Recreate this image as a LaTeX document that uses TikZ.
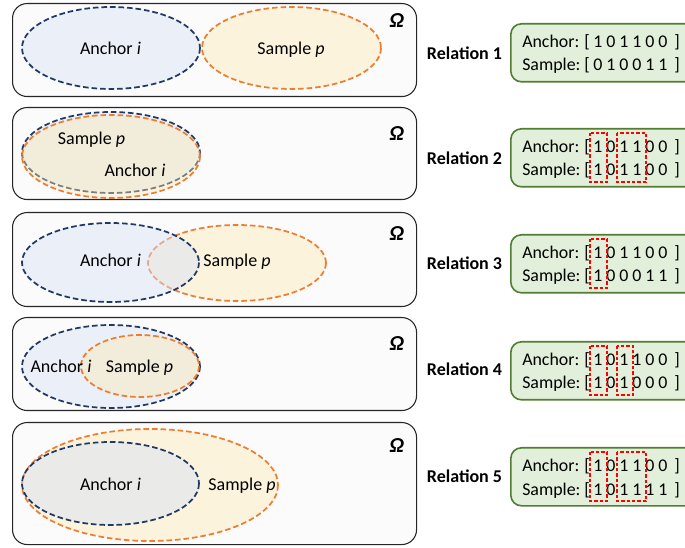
\documentclass[tikz,border=0pt]{standalone}
\usepackage{fontspec}
\setmainfont{Carlito}
\definecolor{navy}{HTML}{203864}
\definecolor{orng}{HTML}{ED7D31}
\definecolor{afill}{HTML}{D6E2F6}
\definecolor{sfill}{HTML}{FFE9B0}
\definecolor{panelfill}{HTML}{FBFBFB}
\definecolor{gborder}{HTML}{507E32}
\definecolor{gfill}{HTML}{E2EFDA}
\tikzset{
  panel/.style={draw=black!85, fill=panelfill, rounded corners=11pt, line width=0.8pt},
  anc/.style={draw=navy, line width=1.3pt, dash pattern=on 4.2pt off 2.2pt, fill=afill, fill opacity=0.45},
  smp/.style={draw=orng, line width=1.3pt, dash pattern=on 4.2pt off 2.2pt, fill=sfill, fill opacity=0.4},
  lbl/.style={anchor=base, inner sep=0pt, font=\fontsize{13.5}{16}\selectfont},
  omega/.style={anchor=base, inner sep=0pt, font=\fontsize{16}{18}\selectfont\bfseries\itshape},
  rel/.style={anchor=base, inner sep=0pt, font=\fontsize{13.5}{16}\selectfont\bfseries},
  gbox/.style={draw=gborder, fill=gfill, rounded corners=8pt, line width=1.2pt, anchor=north west,
    minimum width=150pt, minimum height=43.5pt, inner sep=0pt},
  btxt/.style={anchor=base, inner sep=0pt, font=\fontsize{13.4}{15}\selectfont},
  rbox/.style={draw=red, line width=0.8pt, dash pattern=on 2.6pt off 1.4pt},
}
\newcommand\bitrow[3]{%
  \foreach \d [count=\k] in {#3} {\node[btxt] (#1\k) at ({585+13*\k},#2) {\d};}}
\newcommand\relbox[5]{% #1 prefix, #2 top y, #3 label y, #4 anchor bits, #5 sample bits
  \node[gbox] (#1box) at (510,#2) {};
  \node[btxt, anchor=base west] (#1al) at (522,#2+25) {Anchor:};
  \node[btxt, anchor=base west] (#1sl) at (522,#2+48) {Sample:};
  \node[btxt] (#1ao) at (587,#2+25) {[};
  \node[btxt] (#1so) at (587,#2+48) {[};
  \node[btxt] (#1ac) at (677,#2+25) {]};
  \node[btxt] (#1sc) at (677,#2+48) {]};
  \bitrow{#1a}{#2+25}{#4}
  \bitrow{#1s}{#2+48}{#5}
}
\begin{document}
\begin{tikzpicture}[x=0.75pt,y=-0.75pt]
\useasboundingbox (0,0) rectangle (685,548);

% ---------- Panel 1
\node[panel, anchor=north west, minimum width=303pt, minimum height=69.75pt, inner sep=0pt] (p1) at (12,3) {};
\draw[anc] (111,48) ellipse [x radius=89, y radius=41];
\draw[smp] (291.5,48) ellipse [x radius=89.5, y radius=41];
\node[lbl] (a1) at (110.5,55) {Anchor \textit{i}};
\node[lbl] (s1) at (291,55) {Sample \textit{p}};
\node[omega] (o1) at (397,27.5) {Ω};

% ---------- Panel 2
\node[panel, anchor=north west, minimum width=303pt, minimum height=69pt, inner sep=0pt] (p2) at (12,107) {};
\draw[anc] (111,152.5) ellipse [x radius=89, y radius=40.5];
\draw[smp] (111,156.5) ellipse [x radius=89, y radius=41.5];
\node[lbl] (s2) at (91.5,145) {Sample \textit{p}};
\node[lbl] (a2) at (135,177) {Anchor \textit{i}};
\node[omega] (o2) at (397,141) {Ω};

% ---------- Panel 3
\node[panel, anchor=north west, minimum width=303pt, minimum height=70.5pt, inner sep=0pt] (p3) at (12,212) {};
\draw[smp] (237,263) ellipse [x radius=89, y radius=38];
\draw[anc] (110.5,262.5) ellipse [x radius=88.5, y radius=39.5];
\node[lbl] (a3) at (110.5,267) {Anchor \textit{i}};
\node[lbl] (s3) at (237,267) {Sample \textit{p}};
\node[omega] (o3) at (397,241) {Ω};

% ---------- Panel 4
\node[panel, anchor=north west, minimum width=303pt, minimum height=69.75pt, inner sep=0pt] (p4) at (12,317) {};
\draw[anc] (111,366.5) ellipse [x radius=89, y radius=41.5];
\draw[smp] (140,366) ellipse [x radius=59, y radius=31];
\node[lbl] (a4) at (61,373) {Anchor \textit{i}};
\node[lbl] (s4) at (139.5,373) {Sample \textit{p}};
\node[omega] (o4) at (397,351) {Ω};

% ---------- Panel 5
\node[panel, anchor=north west, minimum width=303pt, minimum height=91.5pt, inner sep=0pt] (p5) at (12,422) {};
\draw[smp] (150,485) ellipse [x radius=128, y radius=56];
\draw[anc] (110.5,483.5) ellipse [x radius=88.5, y radius=41.5];
\node[lbl] (a5) at (110.5,490) {Anchor \textit{i}};
\node[lbl] (s5) at (242,490) {Sample \textit{p}};
\node[omega] (o5) at (397,453) {Ω};

% ---------- Relation labels
\node[rel] (l1) at (464.5,60) {Relation 1};
\node[rel] (l2) at (464.5,165) {Relation 2};
\node[rel] (l3) at (464.5,270) {Relation 3};
\node[rel] (l4) at (464.5,376) {Relation 4};
\node[rel] (l5) at (464.5,482) {Relation 5};

% ---------- Relation boxes
\relbox{r1}{23}{60}{1,0,1,1,0,0}{0,1,0,0,1,1}
\relbox{r2}{128}{165}{1,0,1,1,0,0}{1,0,1,1,0,0}
\relbox{r3}{234}{270}{1,0,1,1,0,0}{1,0,0,0,1,1}
\relbox{r4}{341}{376}{1,0,1,1,0,0}{1,0,1,0,0,0}
\relbox{r5}{447}{482}{1,0,1,1,0,0}{1,0,1,1,1,1}

% ---------- Red dashed highlights
\draw[rbox] (590,133) rectangle (607,182);
\draw[rbox] (617,133) rectangle (646,182);
\draw[rbox] (590,239) rectangle (607,288);
\draw[rbox] (590,346) rectangle (607,395);
\draw[rbox] (617,346) rectangle (633,395);
\draw[rbox] (590,452) rectangle (607,501);
\draw[rbox] (617,452) rectangle (646,501);
\end{tikzpicture}
\end{document}
